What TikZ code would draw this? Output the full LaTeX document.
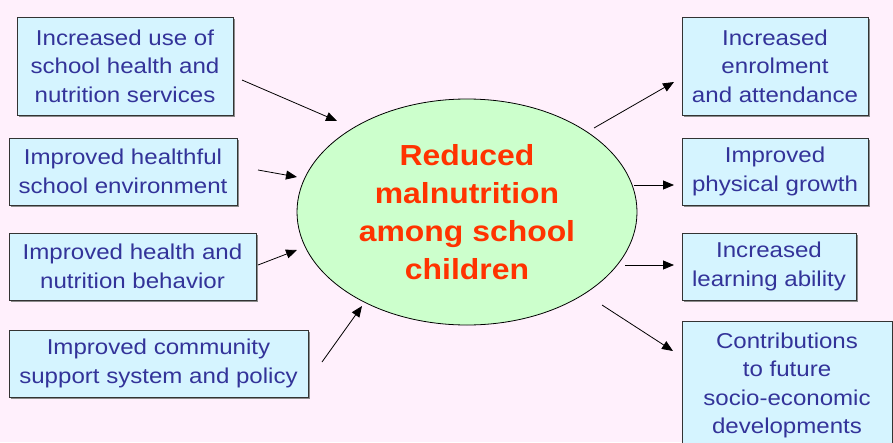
\documentclass[tikz,border=0pt]{standalone}
\usepackage{fontspec}
\setmainfont{Liberation Sans}
\newfontfamily\boxfont[FakeStretch=1.12]{Liberation Sans}
\newfontfamily\ellfont[FakeStretch=1.10]{Liberation Sans}
\usetikzlibrary{arrows.meta,shadows,shapes.geometric}
\definecolor{bgpink}{HTML}{FFF0FC}
\definecolor{boxfill}{HTML}{D5F4FF}
\definecolor{txtblue}{HTML}{333399}
\definecolor{ellfill}{HTML}{CCFFCC}
\definecolor{redtxt}{HTML}{FF3300}
\begin{document}
\begin{tikzpicture}[x=1pt,y=-1pt,
  box/.style={draw=black!80, line width=0.8pt, fill=boxfill, inner sep=0pt, align=center,
    text=txtblue, font=\boxfont\fontsize{21.5}{28.5}\selectfont,
    drop shadow={shadow xshift=1.6pt, shadow yshift=-1.6pt, fill=black!45, opacity=1}},
  arr/.style={line width=0.8pt, -{Triangle[length=11pt,width=9pt]}}]
\fill[bgpink] (0,0) rectangle (893,442);
\useasboundingbox (0,0) rectangle (893,442);
% central ellipse
\node[ellipse, draw=black, line width=0.8pt, fill=ellfill, minimum width=340pt, minimum height=226pt,
  inner sep=0pt, align=center, text=redtxt, font=\ellfont\bfseries\fontsize{29}{38}\selectfont]
  (E) at (467,212) {Reduced\\malnutrition\\among school\\children};
% left boxes
\node[box, minimum width=216pt, minimum height=98pt] (L1) at (125,66)
  {Increased use of\\school health and\\nutrition services};
\node[box, minimum width=228pt, minimum height=67pt] (L2) at (123,171.5)
  {Improved healthful\\school environment};
\node[box, minimum width=247pt, minimum height=67pt] (L3) at (132.5,266.5)
  {Improved health and\\nutrition behavior};
\node[box, minimum width=299pt, minimum height=67pt] (L4) at (158.5,363.5)
  {Improved community\\support system and policy};
% right boxes
\node[box, minimum width=186pt, minimum height=98pt] (R1) at (775,66)
  {Increased\\enrolment\\and attendance};
\node[box, minimum width=186pt, minimum height=67pt] (R2) at (775,171.5)
  {Improved\\physical growth};
\node[box, minimum width=174pt, minimum height=67pt] (R3) at (769,266.5)
  {Increased\\learning ability};
\node[box, minimum width=210pt, minimum height=129pt] (R4) at (787,385.5)
  {Contributions\\to future\\socio-economic\\developments};
% connector ends
\coordinate (a1s) at (242,80);  \coordinate (a1e) at (337,121);
\coordinate (a2s) at (258,170); \coordinate (a2e) at (297,177);
\coordinate (a3s) at (258,265); \coordinate (a3e) at (297,250);
\coordinate (a4s) at (322,362); \coordinate (a4e) at (362,306);
\coordinate (b1s) at (594,128); \coordinate (b1e) at (674,82);
\coordinate (b2s) at (634,185); \coordinate (b2e) at (674,185);
\coordinate (b3s) at (625,265); \coordinate (b3e) at (674,265);
\coordinate (b4s) at (602,305); \coordinate (b4e) at (673,351);
\foreach \s/\e in {a1s/a1e,a2s/a2e,a3s/a3e,a4s/a4e,b1s/b1e,b2s/b2e,b3s/b3e,b4s/b4e}
  \draw[arr] (\s) -- (\e);
\end{tikzpicture}
\end{document}
